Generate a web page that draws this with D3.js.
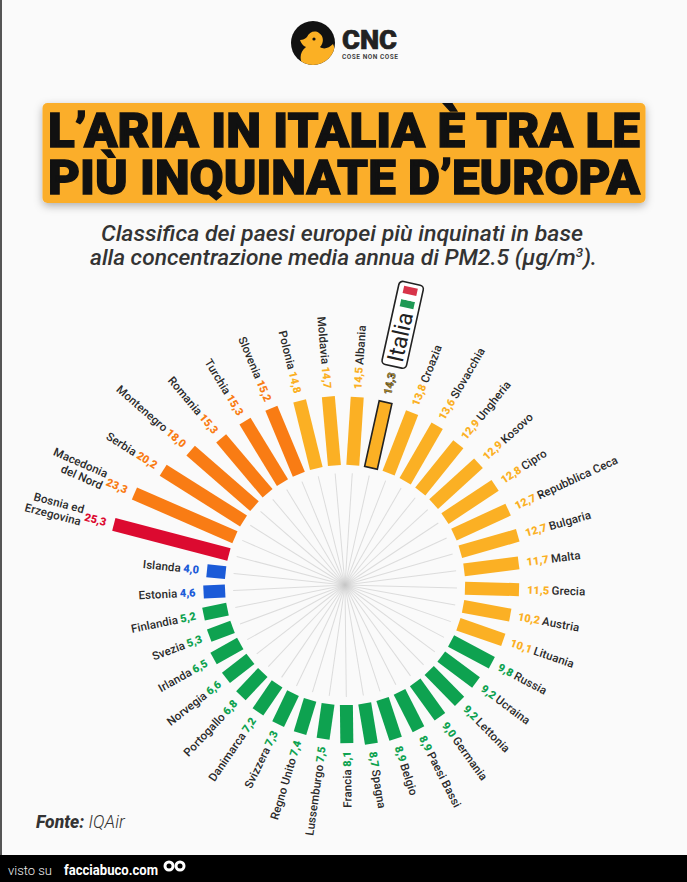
<!DOCTYPE html>
<html lang="it">
<head>
<meta charset="UTF-8">
<title>L'aria in Italia</title>
<script src="https://d3js.org/d3.v7.min.js"></script>
<style>
    html, body { margin: 0; padding: 0; background: #fafafa; overflow: hidden; }
    svg { display: block; }
    text { font-family: Roboto, sans-serif; }
</style>
</head>
<body>
<svg id="chart" width="687" height="882"></svg>
<script>
// clockwise from Bosnia, same order as the ring
const countries = ["Bosnia ed\nErzegovina", "Macedonia\ndel Nord", "Serbia", "Montenegro", "Romania", "Turchia", "Slovenia", "Polonia", "Moldavia", "Albania", "Italia", "Croazia", "Slovacchia", "Ungheria", "Kosovo", "Cipro", "Repubblica Ceca", "Bulgaria", "Malta", "Grecia", "Austria", "Lituania", "Russia", "Ucraina", "Lettonia", "Germania", "Paesi Bassi", "Belgio", "Spagna", "Francia", "Lussemburgo", "Regno Unito", "Svizzera", "Danimarca", "Portogallo", "Norvegia", "Irlanda", "Svezia", "Finlandia", "Estonia", "Islanda"];
const pm25 = [25.3, 23.3, 20.2, 18.0, 15.3, 15.3, 15.2, 14.8, 14.7, 14.5, 14.3, 13.8, 13.6, 12.9, 12.9, 12.8, 12.7, 12.7, 11.7, 11.5, 10.2, 10.1, 9.8, 9.2, 9.2, 9.0, 8.9, 8.9, 8.7, 8.1, 7.5, 7.4, 7.3, 7.2, 6.8, 6.6, 6.5, 5.3, 5.2, 4.6, 4.0];
const levelBreaks = [5, 10, 15, 25];
const levelColors = ["#1b5bd8", "#0ea250", "#fbb024", "#f97c14", "#dc0a30"];

const titleLines = ["L’ARIA IN ITALIA È TRA LE", "PIÙ INQUINATE D’EUROPA"];

const data = countries.map((name, i) => ({ name, value: pm25[i] }));

const svg = d3.select("#chart");
const cx = 345, cy = 585;
const barWidth = 13;

const angle = d3.scaleBand().domain(countries).range([-75.3 - 180 / 41, 284.7 - 180 / 41]);
const radius = d3.scaleLinear().domain([0, 25.3]).range([120, 239]);
const color = d3.scaleThreshold().domain(levelBreaks).range(levelColors);
const mid = d => angle(d.name) + angle.bandwidth() / 2;

// page edges and shadow
const defs = svg.append("defs");
const blur = defs.append("filter").attr("id", "shadow").attr("x", "-5%").attr("y", "-10%").attr("width", "110%").attr("height", "125%");
blur.append("feDropShadow").attr("dx", 0).attr("dy", 3).attr("stdDeviation", 4).attr("flood-color", "#000").attr("flood-opacity", 0.3);
const hub = defs.append("radialGradient").attr("id", "hub");
hub.append("stop").attr("offset", "0%").attr("stop-color", "#c4c4c4");
hub.append("stop").attr("offset", "100%").attr("stop-color", "#fafafa").attr("stop-opacity", 0);
defs.append("clipPath").attr("id", "logoClip").append("circle").attr("cx", 313).attr("cy", 43).attr("r", 22);

svg.append("rect").attr("width", 2).attr("height", 855).attr("fill", "#555");

// logo
const logo = svg.append("g");
logo.append("circle").attr("cx", 313).attr("cy", 43).attr("r", 22).attr("fill", "#111");
logo.append("g").attr("clip-path", "url(#logoClip)").append("path")
    .attr("d", "M300 40 C303 40 305 39 307 37 C309 32 315 30 319 33 C324 36 324 43 320 47 C324 50 329 48 333 44 C337 52 335 60 328 66 L303 66 C299 58 300 52 306 47 C303 46 301 43 300 40 Z")
    .attr("fill", "#fbb024");
logo.append("circle").attr("cx", 314).attr("cy", 39).attr("r", 1.6).attr("fill", "#111");
logo.append("text").attr("x", 342).attr("y", 49).attr("font-size", 26).attr("font-weight", 900)
    .attr("stroke", "#222").attr("stroke-width", 0.6)
    .attr("textLength", 55).attr("lengthAdjust", "spacingAndGlyphs").attr("fill", "#222").text("CNC");
logo.append("text").attr("x", 342).attr("y", 59).attr("font-size", 6.5).attr("font-weight", 700)
    .attr("textLength", 56).attr("fill", "#444").text("COSE NON COSE");

// title
svg.append("rect").attr("x", 42.5).attr("y", 103).attr("width", 603).attr("height", 100).attr("rx", 5)
    .attr("fill", "#fbae2c").attr("filter", "url(#shadow)");
svg.selectAll(".title").data(titleLines).enter().append("text").attr("class", "title")
    .attr("x", 48).attr("y", (d, i) => 147 + i * 47)
    .attr("font-size", 49).attr("font-weight", 900).attr("fill", "#111")
    .attr("stroke", "#111").attr("stroke-width", 1.3)
    .attr("textLength", 592).attr("lengthAdjust", "spacingAndGlyphs").text(d => d);

// subtitle
svg.append("text").attr("x", 101).attr("y", 241).attr("font-size", 22).attr("font-style", "italic").attr("font-weight", 500)
    .attr("fill", "#333").attr("textLength", 482).attr("lengthAdjust", "spacingAndGlyphs")
    .text("Classifica dei paesi europei più inquinati in base");
const sub2 = svg.append("text").attr("x", 90).attr("y", 265).attr("font-size", 22).attr("font-style", "italic").attr("font-weight", 500)
    .attr("fill", "#333").attr("textLength", 507).attr("lengthAdjust", "spacingAndGlyphs");
sub2.append("tspan").text("alla concentrazione media annua di PM2.5 (µg/m");
sub2.append("tspan").attr("font-size", 13).attr("dy", -8).text("3");
sub2.append("tspan").attr("dy", 8).text(").");

// hub and spokes
const ring = svg.append("g").attr("transform", `translate(${cx},${cy})`);
ring.selectAll(".spoke").data(data).enter().append("line").attr("class", "spoke")
    .attr("y1", 0).attr("y2", -112).attr("stroke", "#dcdcdc").attr("stroke-width", 1)
    .attr("transform", d => `rotate(${mid(d)})`);
ring.append("circle").attr("r", 16).attr("fill", "url(#hub)");

// bars
ring.selectAll(".bar").data(data).enter().append("rect").attr("class", "bar")
    .attr("x", -barWidth / 2).attr("width", barWidth)
    .attr("y", d => -radius(d.value))
    .attr("height", d => radius(d.value) - radius.range()[0])
    .attr("fill", d => color(d.value))
    .attr("stroke", d => d.name === "Italia" ? "#222" : "none")
    .attr("stroke-width", 1.6)
    .attr("transform", d => `rotate(${mid(d)})`);

// labels: right side reads outward, left side reads inward
const polar = (a, r) => {
    const t = a * Math.PI / 180;
    return [cx + r * Math.sin(t), cy - r * Math.cos(t)];
};
const fmt = v => v.toFixed(1).replace(".", ",");

data.forEach(d => {
    const a = mid(d);
    const right = a >= 0 && a < 179;
    const tilt = right ? a - 90 : a + 90;
    const anchor = right ? "start" : "end";
    const r0 = radius(d.value) + 8;
    const place = r => {
        const [x, y] = polar(a, r);
        return `translate(${x},${y}) rotate(${tilt})`;
    };
    const val = svg.append("text").attr("class", "value").attr("transform", place(r0))
        .attr("text-anchor", anchor).attr("dy", "0.35em")
        .attr("font-size", 11).attr("font-weight", 900)
        .attr("fill", d.name === "Italia" ? "#a8841c" : color(d.value))
        .attr("stroke", d.name === "Italia" ? "#333" : "none").attr("stroke-width", 0.4)
        .text(fmt(d.value));
    if (d.name === "Italia") return;
    const w = val.node().getComputedTextLength();
    const lines = d.name.split("\n");
    const name = svg.append("text").attr("class", "name").attr("transform", place(r0 + w + 2.5))
        .attr("text-anchor", anchor).attr("font-size", 11.5).attr("font-weight", 500)
        .attr("letter-spacing", 0.1).attr("fill", "#2a2a2a");
    lines.forEach((l, i) => {
        name.append("tspan").attr("x", 0)
            .attr("dy", i === 0 ? (lines.length === 1 ? "0.35em" : "-0.25em") : "1.1em")
            .text(l);
    });
});

// Italia tag, same rotation as its bar
const italia = data.find(d => d.name === "Italia");
const ia = mid(italia);
const tag = svg.append("g").attr("transform", `translate(${polar(ia, 224)}) rotate(${ia - 90})`);
tag.append("rect").attr("x", 0).attr("y", -12.5).attr("width", 85).attr("height", 25).attr("rx", 4)
    .attr("fill", "#fff").attr("stroke", "#222").attr("stroke-width", 1.6);
tag.append("text").attr("x", 5).attr("y", 8).attr("font-size", 23).attr("font-weight", 400).attr("fill", "#222").text("Italia");
tag.append("rect").attr("x", 60).attr("y", -7).attr("width", 7.5).attr("height", 14).attr("fill", "#1f9a55");
tag.append("rect").attr("x", 67.5).attr("y", -7).attr("width", 6).attr("height", 14).attr("fill", "#fff");
tag.append("rect").attr("x", 73.5).attr("y", -7).attr("width", 7.5).attr("height", 14).attr("fill", "#d8344a");

// source
const fonte = svg.append("text").attr("x", 36).attr("y", 828).attr("font-size", 17.5).attr("fill", "#333");
fonte.append("tspan").attr("font-weight", 800).attr("font-style", "italic").text("Fonte: ");
fonte.append("tspan").attr("font-style", "italic").attr("font-weight", 300).text("IQAir");

// site strip
svg.append("rect").attr("y", 855).attr("width", 687).attr("height", 27).attr("fill", "#000");
svg.append("text").attr("x", 8).attr("y", 875).attr("font-size", 13).attr("font-weight", 300).attr("fill", "#eee").text("visto su");
svg.append("text").attr("x", 64).attr("y", 875).attr("font-size", 15).attr("font-weight", 700).attr("fill", "#fff")
    .attr("textLength", 94).attr("lengthAdjust", "spacingAndGlyphs").text("facciabuco.com");
[169, 180].forEach(x => {
    svg.append("circle").attr("cx", x).attr("cy", 866).attr("r", 5.5).attr("fill", "#fff");
    svg.append("circle").attr("cx", x).attr("cy", 866).attr("r", 2.5).attr("fill", "#000");
});
</script>
</body>
</html>
